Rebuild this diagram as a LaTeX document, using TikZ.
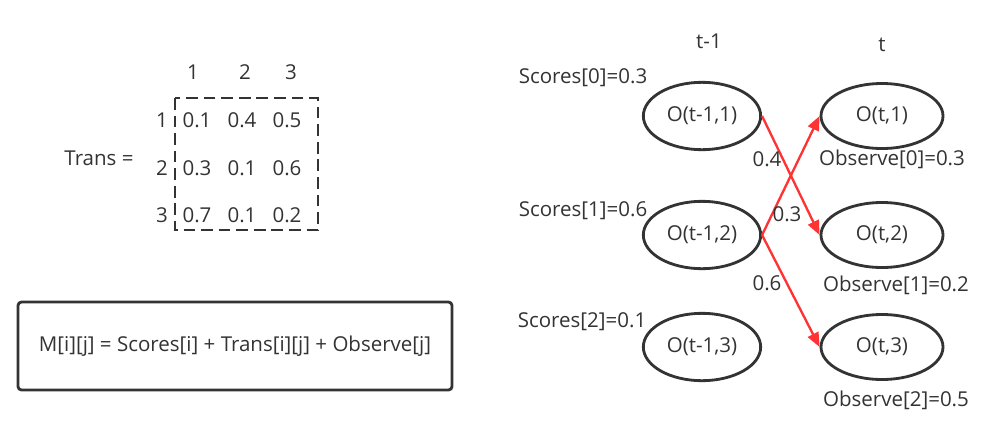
\documentclass[tikz,border=0pt]{standalone}
\usepackage{fontspec}
\setmainfont{Open Sans}
\usetikzlibrary{arrows.meta,shapes.geometric}
\definecolor{ink}{HTML}{333333}
\definecolor{edge}{HTML}{FF3333}

\begin{document}
\begin{tikzpicture}[
      x=0.03cm,y=-0.03cm,
      >={Triangle[length=4.3mm,width=3.5mm]},
      every node/.style={text=ink,font=\fontsize{17.5}{21}\selectfont,inner sep=1pt},
      state/.style={draw=ink,line width=2.4pt,ellipse,minimum width=3.52cm,
        minimum height=2.02cm,inner sep=0pt},
      cell/.style={anchor=center},
      mbox/.style={draw=ink,line width=2.4pt,dash pattern=on 10pt off 5pt},
      formula/.style={draw=ink,line width=2.4pt,rounded corners=3pt,
        minimum width=13.02cm,minimum height=2.64cm},
      flow/.style={draw=edge,line width=2pt,->}
    ]
    \useasboundingbox (0,0) rectangle (988,441);
    % transition matrix
    \node (trans) at (99,158) {Trans =};
    \node[cell] (c1) at (193,72) {1};
    \node[cell] (c2) at (245,72) {2};
    \node[cell] (c3) at (291,72) {3};
    \node[cell] (r1) at (162,120) {1};
    \node[cell] (r2) at (162,168) {2};
    \node[cell] (r3) at (162,215) {3};
    \node[cell] (m11) at (197,120) {0.1};
    \node[cell] (m12) at (242,120) {0.4};
    \node[cell] (m13) at (287,120) {0.5};
    \node[cell] (m21) at (197,168) {0.3};
    \node[cell] (m22) at (242,168) {0.1};
    \node[cell] (m23) at (287,168) {0.6};
    \node[cell] (m31) at (197,215) {0.7};
    \node[cell] (m32) at (242,215) {0.1};
    \node[cell] (m33) at (287,215) {0.2};
    \draw[mbox] (175,98) rectangle (318,230);
    \node[formula] (M) at (235,346)
      {M[i][j] = Scores[i] + Trans[i][j] + Observe[j]};
    % trellis
    \node (prev) at (709,41) {t-1};
    \node (cur) at (882,45) {t};
    \node[state] (p1) at (702,116) {O(t-1,1)};
    \node[state] (p2) at (702,235) {O(t-1,2)};
    \node[state] (p3) at (702,347) {O(t-1,3)};
    \node[state,minimum width=3.66cm,minimum height=1.95cm] (q1) at (882,116) {O(t,1)};
    \node[state,minimum width=3.66cm,minimum height=1.95cm] (q2) at (882,235) {O(t,2)};
    \node[state,minimum width=3.66cm,minimum height=1.95cm] (q3) at (882,347) {O(t,3)};
    \node (s1) at (583,78) {Scores[0]=0.3};
    \node (s2) at (583,211) {Scores[1]=0.6};
    \node (s3) at (582,322) {Scores[2]=0.1};
    \node (o1) at (892,159) {Observe[0]=0.3};
    \node (o2) at (896,285) {Observe[1]=0.2};
    \node (o3) at (896,400) {Observe[2]=0.5};
    \draw[flow] (p1.east) -- (q2.west);
    \draw[flow] (p2.east) -- (q1.west);
    \draw[flow] (p2.east) -- (q3.west);
    \node (w1) at (767,159) {0.4};
    \node (w2) at (787,214) {0.3};
    \node (w3) at (767,283) {0.6};
  \end{tikzpicture}
\end{document}
